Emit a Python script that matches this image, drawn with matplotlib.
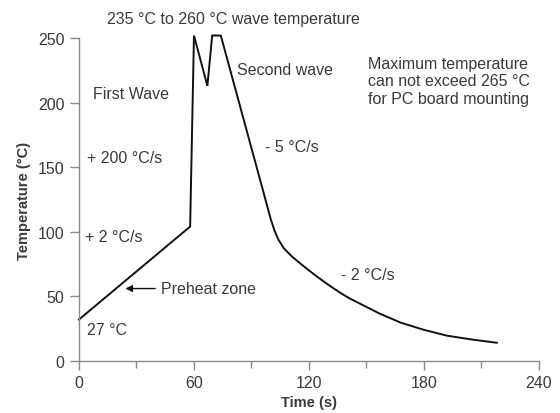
import matplotlib
matplotlib.use('Agg')
import matplotlib.pyplot as plt

# profil de temperatura da solda por onda
tempo = [0, 58, 60, 67, 69.5, 74, 85, 96, 100, 102, 104, 107, 111, 115,
         120, 124, 130, 136, 141, 147, 157, 168, 180, 192, 205, 218]
temperatura = [32, 104, 252, 213, 252, 252, 192, 132, 110, 101, 94, 87, 81, 76,
               70, 65.5, 59, 53, 48.5, 44, 36.5, 29.5, 24, 19.5, 16.5, 14]

xticks = [0, 60, 120, 180, 240]
xticks_menores = [30, 90, 150, 210]
yticks = [0, 50, 100, 150, 200, 250]

# textos: (x, y, texto)
anotacoes = [
    (14.6, 265, '235 °C to 260 °C wave temperature'),
    (7.5, 207, 'First Wave'),
    (4.3, 157.5, '+ 200 °C/s'),
    (3.4, 96, '+ 2 °C/s'),
    (4.3, 24, '27 °C'),
    (82.5, 226, 'Second wave'),
    (97, 166, '- 5 °C/s'),
    (136.8, 66.5, '- 2 °C/s'),
    (150.7, 217, 'Maximum temperature\ncan not exceed 265 °C\nfor PC board mounting'),
]

plt.rcParams['font.family'] = ['Liberation Sans', 'DejaVu Sans']
cor_texto = '#3a3a3a'
cor_eixo = '#8a8a8a'

fig = plt.figure(figsize=(5.6, 4.14), dpi=100)
ax = fig.add_axes([0.141, 0.126, 0.8215, 0.7795])

ax.plot(tempo, temperatura, color='#111111', linewidth=1.4, clip_on=False,
        solid_joinstyle='miter')

ax.set_xlim(0, 240)
ax.set_ylim(0, 250)
ax.set_xticks(xticks)
ax.set_xticks(xticks_menores, minor=True)
ax.set_yticks(yticks)

for lado in ['top', 'right']:
    ax.spines[lado].set_visible(False)
for lado in ['left', 'bottom']:
    ax.spines[lado].set_color(cor_eixo)
    ax.spines[lado].set_linewidth(1.0)

ax.tick_params(which='major', direction='out', length=6.5, width=1.0,
               color=cor_eixo, labelcolor=cor_texto, labelsize=11.5, pad=4)
ax.tick_params(which='minor', direction='out', length=5, width=1.0, color=cor_eixo)

ax.set_xlabel('Time (s)', fontsize=10.5, fontweight='bold', color=cor_texto, labelpad=3)
ax.set_ylabel('Temperature (°C)', fontsize=10.5, fontweight='bold', color=cor_texto, labelpad=5)

for x, y, texto in anotacoes:
    ax.text(x, y, texto, fontsize=11.5, color=cor_texto, ha='left', va='center',
            clip_on=False, linespacing=1.2)

ax.annotate('Preheat zone', xy=(24.2, 56), xytext=(42.7, 56), fontsize=11.5,
            color=cor_texto, va='center', ha='left',
            arrowprops=dict(arrowstyle='-|>', color='#111111', lw=1.0,
                            shrinkA=2, shrinkB=0, mutation_scale=10))

fig.savefig('out.png', dpi=100)
